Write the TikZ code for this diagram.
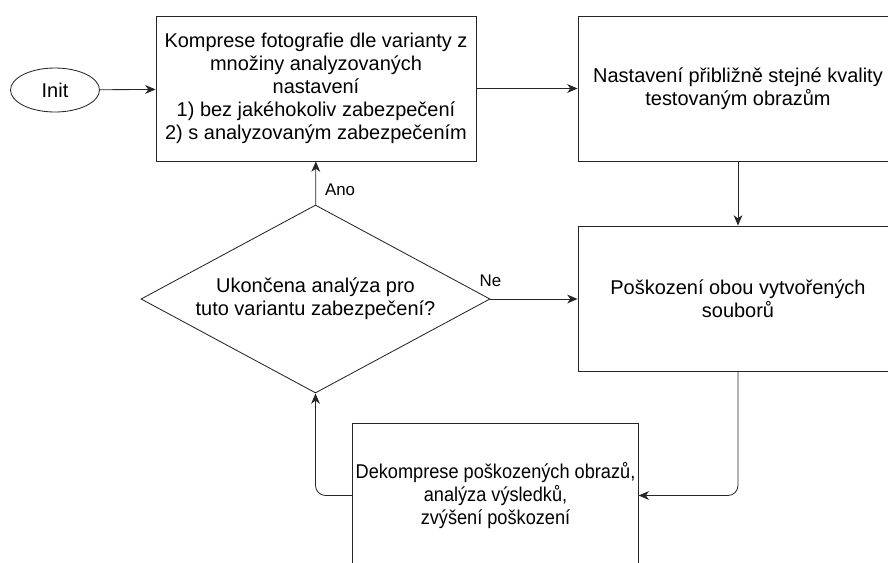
\documentclass[tikz,border=0pt]{standalone}
\usepackage{fontspec}
\setmainfont{Liberation Sans}
\newfontfamily\narrowfont[FakeStretch=0.91]{Liberation Sans}
\usetikzlibrary{shapes.geometric, arrows.meta, positioning, calc}

\begin{document}
\begin{tikzpicture}[
            % Define node styles
            start/.style={ellipse, draw, minimum width=2.225cm, minimum height=1.1cm, inner sep=0pt},
            process/.style={rectangle, draw, minimum width=8cm, minimum height=3.625cm, align=center},
            decision/.style={diamond, draw, aspect=1.86, minimum width=8.725cm, minimum height=4.7cm, inner sep=0pt, align=center},
            arrow/.style={-{Stealth[length=2.6mm, width=2.2mm, inset=0.8mm]}},
            lbl/.style={font=\fontsize{12}{14}\selectfont},
            every node/.append style={font=\fontsize{14.2}{16.4}\selectfont},
            line width=0.6pt, draw=black!85
        ]

        \clip (0,0) rectangle (22.2,-14.05);

        % Top row
        \node[start] (init) at (1.375,-2.25) {Init};
        \node[process] (comp) at (7.9,-2.2125) {Komprese fotografie dle varianty z\\množiny analyzovaných\\nastavení\\1) bez jakéhokoliv zabezpečení\\2) s analyzovaným zabezpečením};
        \node[process] (qual) at (18.45,-2.2125) {Nastavení přibližně stejné kvality\\testovaným obrazům};

        % Middle row
        \node[decision] (check) at (7.8875,-7.475) {Ukončena analýza pro\\tuto variantu zabezpečení?};
        \node[process] (damage) at (18.45,-7.4625) {Poškození obou vytvořených\\souborů};

        % Bottom
        \node[process, minimum width=7.125cm, inner xsep=2pt, font=\narrowfont\fontsize{14.2}{16.4}\selectfont] (decomp) at (12.3875,-12.3875) {Dekomprese poškozených obrazů,\\analýza výsledků,\\zvýšení poškození};

        % Connections
        \draw[arrow] (init) -- (comp);
        \draw[arrow] (comp.east) -- (comp.east -| qual.west);
        \draw[arrow] (qual) -- (damage);
        \draw[arrow] (check.east) -- node[lbl, pos=0, above, yshift=5pt] {Ne} (damage.west |- check.east);
        \draw[arrow] (check) -- node[lbl, pos=0.35, right, xshift=3pt] {Ano} (comp);
        \draw[arrow, rounded corners=0.25cm] (damage.south) |- (decomp.east);
        \draw[arrow, rounded corners=0.25cm] (decomp.west) -| (check.south);

        \end{tikzpicture}
\end{document}
